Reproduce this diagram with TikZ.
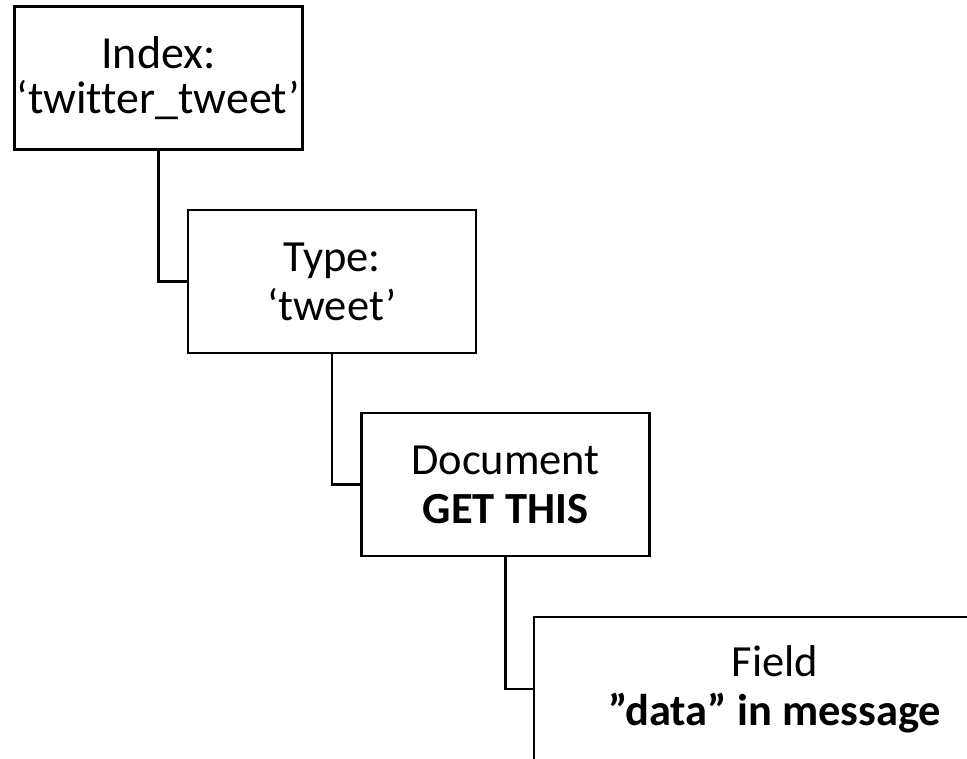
\documentclass[tikz,border=0pt]{standalone}
\usepackage{fontspec}
\setmainfont{Carlito}[Ligatures=NoCommon]
\usetikzlibrary{positioning}
\tikzset{
    level/.style={draw, rectangle, line width=2.4pt, align=center, inner sep=0pt,
        minimum width=288pt, minimum height=143pt,
        font=\fontsize{44.5}{49}\selectfont},
    link/.style={line width=2.4pt}
}

\begin{document}
\begin{tikzpicture}[x=1pt,y=-1pt]
    \useasboundingbox (0,0) rectangle (967,759);
    \clip (0,0) rectangle (967,759);
    % the four levels
    \node[level, font=\fontsize{46}{45}\selectfont] (index) at (158.5,78) {Index:\\‘twitter\_tweet’};
    \node[level] (type) at (332,281.5) {Type:\\‘tweet’};
    \node[level] (document) at (505.5,484.5) {Document\\\textbf{GET THIS}};
    \node[level, minimum width=482pt, minimum height=144pt] (field) at (775,689) {Field\\\textbf{”data” in message}};
    % links between levels
    \draw[link] (index.south) |- (type.west);
    \draw[link] (type.south) |- (document.west);
    \draw[link] (document.south) |- (field.west);
\end{tikzpicture}
\end{document}
